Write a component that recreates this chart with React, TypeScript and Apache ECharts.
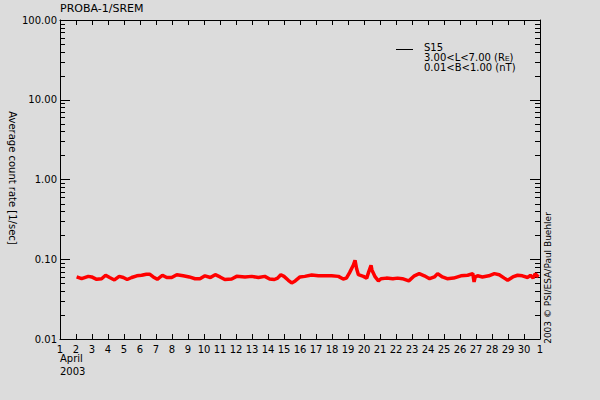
import { useEffect, useRef } from 'react'
import * as echarts from 'echarts'

// day of month (April 2003, 31 = May 1) and average count rate [1/sec]
const days = [
  2.04, 2.35, 2.77, 2.98, 3.29, 3.6, 3.85, 4.1, 4.4, 4.7, 4.96, 5.2, 5.48, 5.8, 6.1, 6.4, 6.6, 6.83,
  7.08, 7.4, 7.67, 7.98, 8.3, 8.7, 9.08, 9.44, 9.75, 10.06, 10.4, 10.7, 11.0, 11.3, 11.73, 12.04,
  12.56, 12.98, 13.4, 13.8, 14.1, 14.4, 14.6, 14.8, 15.0, 15.27, 15.48, 15.7, 16.0, 16.3, 16.73,
  17.15, 17.56, 17.98, 18.4, 18.7, 18.9, 19.1, 19.33, 19.44, 19.54, 19.65, 19.96, 20.17, 20.3,
  20.44, 20.5, 20.7, 20.9, 21.06, 21.4, 21.8, 22.1, 22.4, 22.8, 23.15, 23.45, 23.77, 24.1, 24.4,
  24.6, 24.9, 25.2, 25.6, 26.06, 26.48, 26.8, 26.88, 26.95, 27.1, 27.4, 27.8, 28.15, 28.45, 28.77,
  28.98, 29.3, 29.6, 29.9, 30.23, 30.4, 30.57, 30.7, 30.9,
]
const rates = [
  0.06, 0.057, 0.061, 0.06, 0.056, 0.057, 0.063, 0.059, 0.055, 0.061, 0.059, 0.0557, 0.059, 0.062,
  0.063, 0.065, 0.065, 0.06, 0.056, 0.063, 0.059, 0.059, 0.064, 0.062, 0.06, 0.057, 0.057, 0.062,
  0.059, 0.064, 0.06, 0.0557, 0.0566, 0.061, 0.06, 0.061, 0.059, 0.061, 0.0566, 0.0557, 0.058,
  0.064, 0.061, 0.0545, 0.0505, 0.0535, 0.06, 0.061, 0.0635, 0.062, 0.062, 0.062, 0.061, 0.0566,
  0.058, 0.068, 0.084, 0.097, 0.076, 0.064, 0.061, 0.058, 0.07, 0.084, 0.073, 0.06, 0.0535, 0.057,
  0.058, 0.057, 0.058, 0.057, 0.0535, 0.062, 0.066, 0.062, 0.057, 0.06, 0.066, 0.06, 0.057, 0.058,
  0.062, 0.063, 0.066, 0.052, 0.06, 0.062, 0.06, 0.062, 0.066, 0.064, 0.058, 0.0545, 0.06, 0.063,
  0.062, 0.059, 0.063, 0.058, 0.066, 0.06,
]

// log minor tick positions
const minorTicks = [
  0.02, 0.03, 0.04, 0.05, 0.06, 0.07, 0.08, 0.09,
  0.2, 0.3, 0.4, 0.5, 0.6, 0.7, 0.8, 0.9,
  2, 3, 4, 5, 6, 7, 8, 9,
  20, 30, 40, 50, 60, 70, 80, 90,
]

const FONT = 'DejaVu Sans'
const BG = '#dcdcdc'

export default function App() {
  const chartRef = useRef<HTMLDivElement | null>(null)

  useEffect(() => {
    if (!chartRef.current) {
      return undefined
    }
    const chart = echarts.init(chartRef.current, undefined, { renderer: 'svg' })

    const xBase = {
      type: 'value',
      min: 1,
      max: 31,
      interval: 1,
      axisLine: { show: true, lineStyle: { color: '#000', width: 1 } },
      axisTick: { show: true, inside: true, length: 5, lineStyle: { color: '#000', width: 1 } },
      splitLine: { show: false },
    }
    const yBase = {
      type: 'log',
      min: 0.01,
      max: 100,
      logBase: 10,
      axisLine: { show: true, lineStyle: { color: '#000', width: 1 } },
      axisTick: { show: true, inside: true, length: 10, lineStyle: { color: '#000', width: 1 } },
      splitLine: { show: false },
    }
    // short inward ticks at the log minor positions, on both y axes
    const tickSeries = (x: number, dir: number) => ({
      type: 'custom',
      silent: true,
      clip: false,
      data: minorTicks.map((v) => [x, v]),
      renderItem: (_params: unknown, api: any) => {
        const p = api.coord([api.value(0), api.value(1)])
        const y = Math.round(p[1]) + 0.5
        return {
          type: 'line',
          shape: { x1: p[0], y1: y, x2: p[0] + dir * 5, y2: y },
          style: { stroke: '#000', lineWidth: 1 },
        }
      },
      z: 1,
    })

    chart.setOption({
      animation: false,
      backgroundColor: BG,
      textStyle: { fontFamily: FONT },
      grid: { left: 60, right: 60, top: 20, bottom: 61 },
      xAxis: [
        {
          ...xBase,
          position: 'bottom',
          axisLabel: {
            interval: 0,
            margin: 5,
            color: '#000',
            fontFamily: FONT,
            fontSize: 10,
            formatter: (v: number) => (v === 31 ? '1' : String(v)),
          },
        },
        { ...xBase, position: 'top', axisLabel: { show: false } },
      ],
      yAxis: [
        {
          ...yBase,
          position: 'left',
          axisLabel: {
            margin: 3,
            color: '#000',
            fontFamily: FONT,
            fontSize: 10,
            formatter: (v: number) => v.toFixed(2),
          },
        },
        { ...yBase, position: 'right', axisLabel: { show: false } },
      ],
      graphic: [
        {
          type: 'text',
          left: 60,
          top: 3,
          style: { text: 'PROBA-1/SREM', fill: '#000', font: `11px "${FONT}"` },
        },
        {
          type: 'text',
          left: 60,
          top: 352,
          style: { text: 'April\n2003', fill: '#000', font: `10px "${FONT}"`, lineHeight: 13 },
        },
        {
          type: 'text',
          x: 12,
          y: 178,
          rotation: -Math.PI / 2,
          style: {
            text: 'Average count rate [1/sec]',
            fill: '#000',
            font: `10px "${FONT}"`,
            align: 'center',
            verticalAlign: 'middle',
          },
        },
        {
          type: 'text',
          x: 548,
          y: 278,
          rotation: Math.PI / 2,
          style: {
            text: '2003 © PSI/ESA/Paul Buehler',
            fill: '#000',
            font: `9px "${FONT}"`,
            align: 'center',
            verticalAlign: 'middle',
          },
        },
        {
          type: 'line',
          shape: { x1: 396, y1: 49.5, x2: 413, y2: 49.5 },
          style: { stroke: '#000', lineWidth: 1 },
        },
        {
          type: 'text',
          left: 424,
          top: 42,
          style: {
            text: 'S15\n3.00<L<7.00 (R{sub|E})\n0.01<B<1.00 (nT)',
            fill: '#000',
            font: `10px "${FONT}"`,
            lineHeight: 10,
            rich: { sub: { fontSize: 7, verticalAlign: 'bottom', padding: [4, 0, 0, 0] } },
          },
        },
      ],
      series: [
        {
          name: 'S15',
          type: 'line',
          xAxisIndex: 0,
          yAxisIndex: 0,
          showSymbol: false,
          data: days.map((d, i) => [d, rates[i]]),
          lineStyle: { color: '#ff0000', width: 3.5 },
          itemStyle: { color: '#ff0000' },
          z: 3,
        },
        tickSeries(1, 1),
        tickSeries(31, -1),
      ],
    })

    return () => {
      chart.dispose()
    }
  }, [])

  return (
    <div
      ref={chartRef}
      style={{ position: 'fixed', left: 0, top: 0, width: 600, height: 400, background: BG }}
    />
  )
}
